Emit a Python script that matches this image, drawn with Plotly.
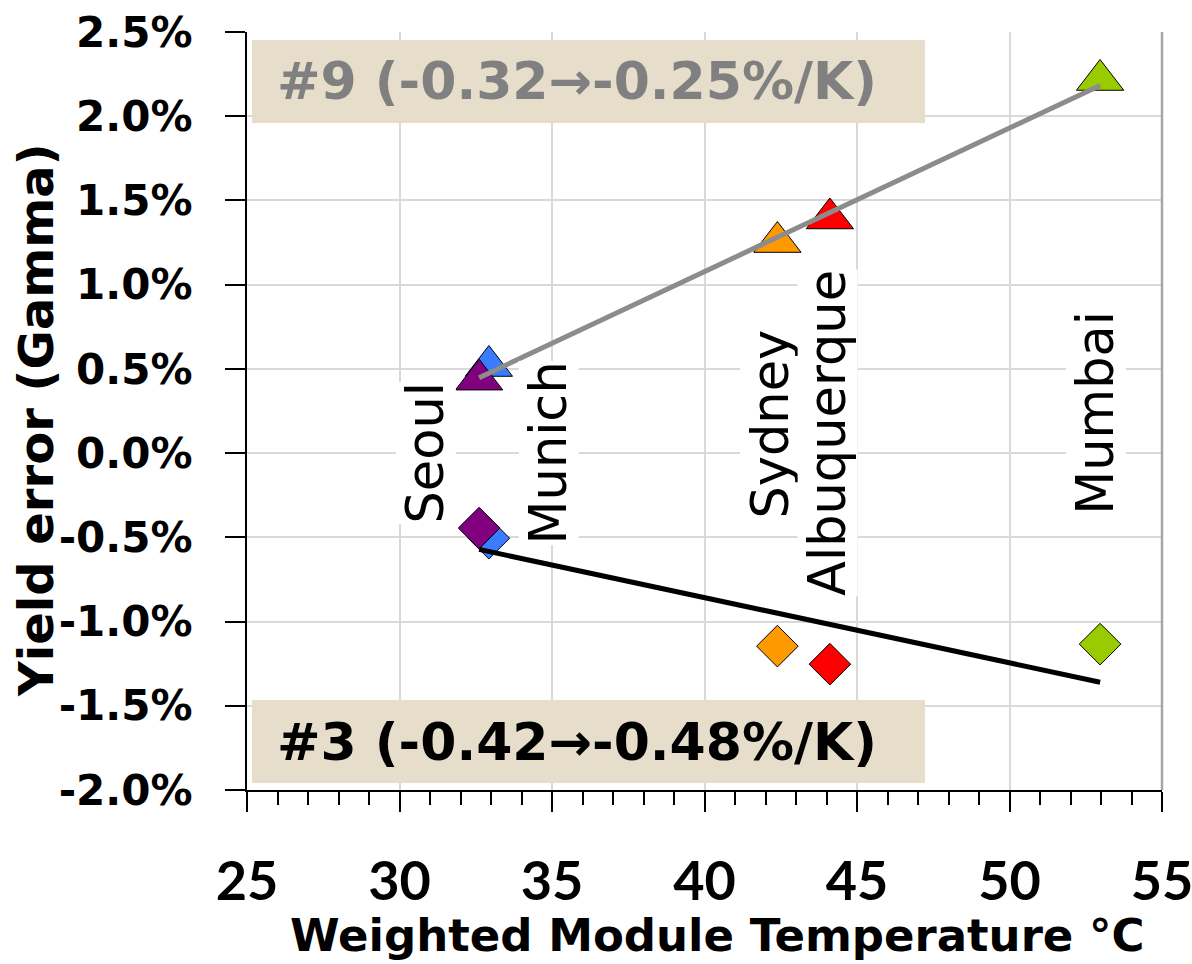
import numpy as np
import plotly.graph_objects as go

# ---- data -------------------------------------------------------------
cities = ["Munich", "Seoul", "Sydney", "Albuquerque", "Mumbai"]
module_temp = [32.93, 32.61, 42.39, 44.11, 52.97]          # weighted module temperature, °C
yield_err_9 = [0.517, 0.436, 1.253, 1.393, 2.215]           # module #9, yield error in %
yield_err_3 = [-0.505, -0.445, -1.146, -1.253, -1.134]      # module #3, yield error in %
city_colors = ["#3A7BFF", "#800080", "#FF9900", "#FF0000", "#99CC00"]

x_ticks = [25, 30, 35, 40, 45, 50, 55]
y_ticks = [-2.0, -1.5, -1.0, -0.5, 0.0, 0.5, 1.0, 1.5, 2.0, 2.5]
y_tick_text = [f"{v:.1f}%" for v in y_ticks]

label_9 = "#9 (-0.32\u2192-0.25%/K)"
label_3 = "#3 (-0.42\u2192-0.48%/K)"

# ---- layout constants -------------------------------------------------
W, H = 1192, 964
ML, MR, MT, MB = 247, 30, 32, 174
PW, PH = W - ML - MR, H - MT - MB


def px_x(px):
    return (px - ML) / PW


def px_y(py):
    return (H - MB - py) / PH


# where the rotated city names sit (data coordinates)
city_label_xy = {
    "Seoul": (30.85, 0.0),
    "Munich": (34.88, 0.0),
    "Sydney": (42.15, 0.17),
    "Albuquerque": (44.05, 0.12),
    "Mumbai": (52.84, 0.24),
}

GRID = "#D9D9D9"
BOX = "#E6DECA"

fig = go.Figure()

fig.add_trace(go.Scatter(
    x=module_temp, y=yield_err_3, mode="markers", showlegend=False,
    marker=dict(symbol="diamond", size=32, color=city_colors,
                line=dict(color="black", width=1)),
))
fig.add_trace(go.Scatter(
    x=module_temp, y=yield_err_9, mode="markers", showlegend=False,
    marker=dict(symbol="triangle-up", size=41, color=city_colors,
                line=dict(color="black", width=1)),
))

# linear trend lines over the temperature span
t_span = np.array([min(module_temp), max(module_temp)])
for ys, col in [(yield_err_9, "#8C8C8C"), (yield_err_3, "black")]:
    coef = np.polyfit(module_temp, ys, 1)
    fig.add_trace(go.Scatter(
        x=t_span, y=np.polyval(coef, t_span), mode="lines", showlegend=False,
        line=dict(color=col, width=5),
    ))

annotations = []
for name in cities:
    lx, ly = city_label_xy[name]
    annotations.append(dict(
        x=lx, y=ly, xref="x", yref="y", text=name, showarrow=False,
        textangle=-90, bgcolor="white", borderpad=0,
        font=dict(family="DejaVu Sans", size=51, color="black"),
    ))

annotations += [
    dict(x=px_x(275), y=px_y(81), xref="paper", yref="paper", text=label_9,
         showarrow=False, xanchor="left", yanchor="middle",
         font=dict(family="DejaVu Sans", size=52, color="#808080", weight="bold")),
    dict(x=px_x(275), y=px_y(742), xref="paper", yref="paper", text=label_3,
         showarrow=False, xanchor="left", yanchor="middle",
         font=dict(family="DejaVu Sans", size=52, color="black", weight="bold")),
    dict(x=px_x(717), y=px_y(935), xref="paper", yref="paper",
         text="Weighted Module Temperature °C", showarrow=False,
         xanchor="center", yanchor="middle",
         font=dict(family="DejaVu Sans", size=45, color="black", weight="bold")),
    dict(x=px_x(36), y=px_y(420), xref="paper", yref="paper",
         text="Yield error (Gamma)", showarrow=False, textangle=-90,
         xanchor="center", yanchor="middle",
         font=dict(family="DejaVu Sans", size=48, color="black", weight="bold")),
]

shapes = [
    dict(type="rect", xref="paper", yref="paper", layer="above",
         x0=px_x(252), x1=px_x(925), y0=px_y(123), y1=px_y(40),
         fillcolor=BOX, line=dict(width=0)),
    dict(type="rect", xref="paper", yref="paper", layer="above",
         x0=px_x(252), x1=px_x(925), y0=px_y(783), y1=px_y(700),
         fillcolor=BOX, line=dict(width=0)),
    dict(type="line", xref="paper", yref="paper", layer="above",
         x0=1, x1=1, y0=0, y1=1, line=dict(color="#A6A6A6", width=2.5)),
]

fig.update_layout(
    width=W, height=H,
    margin=dict(l=ML, r=MR, t=MT, b=MB, autoexpand=False),
    paper_bgcolor="white", plot_bgcolor="white",
    showlegend=False,
    annotations=annotations,
    shapes=shapes,
    xaxis=dict(
        range=[25, 55], tickvals=x_ticks, ticktext=[str(v) for v in x_ticks],
        showgrid=True, gridcolor=GRID, gridwidth=2, zeroline=False,
        showline=True, linecolor="black", linewidth=2,
        ticks="outside", ticklen=20, tickwidth=2, tickcolor="black",
        ticklabelstandoff=23, ticklabeloverflow="allow", automargin=False,
        minor=dict(dtick=1, tick0=25, ticks="outside", ticklen=13, tickwidth=2,
                   tickcolor="black", showgrid=False),
        tickfont=dict(family="Lato", size=54, color="black", weight="bold"),
    ),
    yaxis=dict(
        range=[-2.0, 2.5], tickvals=y_ticks, ticktext=y_tick_text,
        showgrid=True, gridcolor=GRID, gridwidth=2, zeroline=False,
        showline=True, linecolor="black", linewidth=2, automargin=False,
        ticks="outside", ticklen=20, tickwidth=2, tickcolor="black",
        ticklabelstandoff=24,
        tickfont=dict(family="DejaVu Sans", size=42, color="black", weight="bold"),
    ),
)

fig.write_html("out.html")
